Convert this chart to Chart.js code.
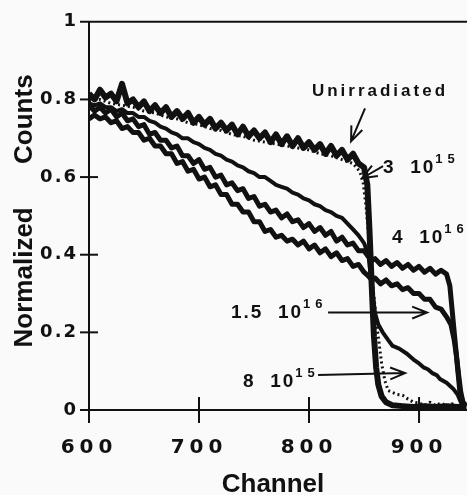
<!DOCTYPE html>
<html>
<head>
<meta charset="utf-8">
<title>Normalized counts vs channel</title>
<script src="https://cdn.jsdelivr.net/npm/chart.js@4.4.1/dist/chart.umd.min.js"></script>
<style>
  html, body { margin: 0; padding: 0; background: #fafafa; }
  #wrap { position: relative; width: 467px; height: 495px; }
</style>
</head>
<body>
<div id="wrap"><canvas id="rbsPlot"></canvas></div>
<script>
// values (channel -> normalized counts)
let unirrChannel = [600,605,610,615,620,625,630,635,640,645,650,655,660,665,670,675,680,685,690,695,
    700,705,710,715,720,725,730,735,740,745,750,755,760,765,770,775,780,785,790,795,
    800,805,810,815,820,825,830,835,840,845,850,853,855,857,859,861,863,866,870,876,885,895,905,915,925,935,943];
let unirrCounts = [.815,.800,.825,.805,.815,.795,.840,.790,.800,.780,.795,.770,.785,.765,.780,.755,.770,.750,.765,.740,
    .755,.735,.750,.725,.740,.720,.735,.710,.730,.705,.720,.700,.715,.690,.710,.685,.705,.680,.700,.675,
    .690,.670,.685,.660,.680,.655,.670,.645,.660,.635,.625,.580,.460,.320,.190,.110,.065,.035,.020,.012,.010,.008,.010,.008,.010,.008,.010];

let f3e15Channel = [600,610,620,630,640,650,660,670,680,690,700,710,720,730,740,750,760,770,780,790,800,810,820,830,840,
    846,849,852,855,858,862,866,869,872,876,880,885,889,895,900,905,910,915,920,925,930,935,940,943];
let f3e15Counts = [.795,.800,.790,.785,.780,.770,.765,.755,.750,.740,.735,.725,.720,.710,.705,.695,.690,.685,.680,.675,.670,.660,.655,.645,.635,
    .615,.590,.520,.420,.320,.210,.120,.075,.050,.045,.040,.038,.030,.020,.018,.012,.020,.012,.018,.010,.016,.010,.015,.010];

let f8e15Channel = [600,605,610,615,620,625,630,635,640,645,650,655,660,665,670,675,680,685,690,695,
    700,705,710,715,720,725,730,735,740,745,750,755,760,765,770,775,780,785,790,795,
    800,805,810,815,820,825,830,835,840,845,850,854,857,860,863,867,872,876,882,889,895,900,904,908,912,916,919,925,931,935,938,941];
let f8e15Counts = [.790,.785,.790,.780,.780,.770,.775,.765,.765,.755,.755,.745,.740,.730,.725,.715,.710,.700,.700,.690,
    .685,.675,.670,.660,.655,.645,.640,.630,.625,.615,.610,.600,.600,.590,.580,.575,.570,.560,.555,.545,
    .540,.530,.525,.515,.510,.500,.495,.480,.465,.450,.430,.400,.320,.250,.220,.200,.180,.165,.158,.145,.130,.120,.110,.105,.095,.090,.080,.070,.055,.040,.020,.010];

let f15e16Channel = [600,605,610,615,620,625,630,635,640,645,650,655,660,665,670,675,680,685,690,695,
    700,705,710,715,720,725,730,735,740,745,750,755,760,765,770,775,780,785,790,795,
    800,805,810,815,820,825,830,835,840,845,850,854,857,860,865,870,875,880,885,890,895,900,905,910,915,920,925,929,932,934,936,938,940,943];
let f15e16Counts = [.750,.760,.750,.755,.740,.745,.725,.730,.715,.715,.695,.700,.680,.680,.660,.660,.635,.640,.615,.620,
    .595,.600,.575,.580,.555,.555,.530,.530,.510,.510,.485,.485,.460,.465,.445,.450,.435,.440,.425,.435,
    .415,.425,.405,.415,.395,.405,.385,.390,.370,.375,.355,.345,.335,.340,.325,.335,.320,.325,.310,.315,.300,.300,.285,.285,.265,.260,.240,.220,.180,.140,.090,.045,.020,.010];

let f4e16Channel = [600,605,610,615,620,625,630,635,640,645,650,655,660,665,670,675,680,685,690,695,
    700,705,710,715,720,725,730,735,740,745,750,755,760,765,770,775,780,785,790,795,
    800,805,810,815,820,825,830,835,840,845,850,854,857,860,865,870,875,880,885,890,895,900,905,910,915,920,925,928,931,934,937,940,943];
let f4e16Counts = [.785,.770,.780,.765,.775,.755,.765,.745,.750,.730,.735,.710,.715,.695,.695,.675,.680,.655,.655,.635,
    .645,.620,.625,.600,.605,.580,.585,.565,.570,.545,.550,.525,.530,.510,.515,.495,.505,.485,.490,.470,
    .480,.460,.470,.450,.460,.435,.445,.425,.430,.410,.410,.395,.385,.390,.375,.385,.370,.380,.365,.375,.360,.370,.355,.365,.350,.360,.350,.320,.230,.140,.050,.015,.010];

let xTicks = [600, 700, 800, 900];
let xTickLabels = ['600', '700', '800', '900'];
let yTicks = [0, 0.2, 0.4, 0.6, 0.8, 1];
let yTickLabels = ['0', '0.2', '0.4', '0.6', '0.8', '1'];
let xTitle = 'Channel';
let yTitle = 'Normalized      Counts';

function toPoints(xs, ys) {
    return xs.map((x, i) => ({x: x, y: ys[i]}));
}

// plain black curve
function curve(label, xs, ys, width, dash) {
    return {
        label: label,
        data: toPoints(xs, ys),
        borderColor: '#111',
        borderWidth: width,
        borderDash: dash || [],
        borderJoinStyle: 'round',
        pointRadius: 0,
        tension: 0,
        fill: false
    };
}

// tick labels are letter-spaced like the original print
function spacedLabels(spacing) {
    return (scale) => {
        if (scale._spaced) return;
        let drawLabels = scale.drawLabels.bind(scale);
        scale.drawLabels = (area) => {
            scale.ctx.letterSpacing = spacing;
            drawLabels(area);
            scale.ctx.letterSpacing = '0px';
        };
        scale._spaced = true;
    };
}

function arrow(ctx, x0, y0, x1, y1) {
    let a = Math.atan2(y1 - y0, x1 - x0);
    let len = 16, spread = 0.38;
    ctx.beginPath();
    ctx.moveTo(x0, y0);
    ctx.lineTo(x1, y1);
    ctx.moveTo(x1 - len * Math.cos(a - spread), y1 - len * Math.sin(a - spread));
    ctx.lineTo(x1, y1);
    ctx.lineTo(x1 - len * Math.cos(a + spread), y1 - len * Math.sin(a + spread));
    ctx.stroke();
}

// "3  10^15" style labels, anchored in data units (left edge / baseline)
let doseLabels = [
    {base: '3  10', sup: '15', ch: 867.3, v: 0.610},
    {base: '4  10', sup: '16', ch: 875.5, v: 0.431},
    {base: '1.5  10', sup: '16', ch: 729, v: 0.238},
    {base: '8  10', sup: '15', ch: 740, v: 0.059}
];
let arrows = [
    [850.9, 0.777, 838.2, 0.692],
    [867.3, 0.628, 848.2, 0.597],
    [817.3, 0.251, 907.3, 0.251],
    [808.2, 0.090, 887.3, 0.095]
];

const decorations = {
    id: 'decorations',
    afterDraw(chart) {
        let ctx = chart.ctx;
        let xs = chart.scales.x, ys = chart.scales.y;
        let area = chart.chartArea;
        ctx.save();
        ctx.letterSpacing = '0px';
        ctx.strokeStyle = '#111';
        ctx.fillStyle = '#111';
        ctx.lineWidth = 2;

        // tick marks crossing the axes
        yTicks.forEach(v => {
            let py = ys.getPixelForValue(v);
            ctx.beginPath();
            ctx.moveTo(area.left - 9, py);
            ctx.lineTo(v === 1 ? area.right : area.left + 9, py);
            ctx.stroke();
        });
        xTicks.forEach(v => {
            let px = xs.getPixelForValue(v);
            ctx.beginPath();
            ctx.moveTo(px, area.bottom - 13);
            ctx.lineTo(px, area.bottom + 13);
            ctx.stroke();
        });

        // axis titles
        ctx.font = 'bold 26px "Liberation Sans", Arial, sans-serif';
        ctx.textAlign = 'center';
        ctx.textBaseline = 'alphabetic';
        ctx.fillText(xTitle, (area.left + area.right) / 2 - 5, 492);
        ctx.save();
        ctx.translate(32, (area.top + area.bottom) / 2 - 5);
        ctx.rotate(-Math.PI / 2);
        ctx.fillText(yTitle, 0, 0);
        ctx.restore();

        // annotations
        ctx.font = 'bold 17px "Liberation Sans", Arial, sans-serif';
        ctx.letterSpacing = '3px';
        ctx.fillText('Unirradiated', xs.getPixelForValue(864.5), ys.getPixelForValue(0.808));

        ctx.textAlign = 'left';
        doseLabels.forEach(d => {
            let x0 = xs.getPixelForValue(d.ch), y0 = ys.getPixelForValue(d.v);
            ctx.font = 'bold 19px "Liberation Sans", Arial, sans-serif';
            ctx.letterSpacing = '2px';
            ctx.fillText(d.base, x0, y0);
            let w = ctx.measureText(d.base).width;
            ctx.font = 'bold 13px "Liberation Sans", Arial, sans-serif';
            ctx.letterSpacing = '5px';
            ctx.fillText(d.sup, x0 + w, y0 - 10);
        });

        ctx.letterSpacing = '0px';
        arrows.forEach(a => {
            arrow(ctx, xs.getPixelForValue(a[0]), ys.getPixelForValue(a[1]),
                xs.getPixelForValue(a[2]), ys.getPixelForValue(a[3]));
        });
        ctx.restore();
    }
};

let plot = document.getElementById('rbsPlot').getContext('2d');

new Chart(plot, {
    type: 'line',
    data: {
        datasets: [
            curve('Unirradiated', unirrChannel, unirrCounts, 6),
            curve('3 10^15', f3e15Channel, f3e15Counts, 3, [2, 3]),
            curve('1.5 10^16', f15e16Channel, f15e16Counts, 5),
            curve('4 10^16', f4e16Channel, f4e16Counts, 5),
            curve('8 10^15', f8e15Channel, f8e15Counts, 4),
            // white core gives the outlined look of the 8 10^15 trace
            Object.assign(curve('8 10^15 core', f8e15Channel, f8e15Counts, 1.4), {borderColor: '#fafafa'})
        ]
    },
    options: {
        responsive: true,
        maintainAspectRatio: false,
        animation: false,
        layout: { padding: {top: 20, right: 0, bottom: 0, left: 0} },
        scales: {
            x: {
                type: 'linear',
                min: 600,
                max: 943.6,
                afterFit: (scale) => { scale.height = 85; },
                afterUpdate: spacedLabels('5px'),
                afterBuildTicks: (scale) => { scale.ticks = xTicks.map(v => ({value: v})); },
                grid: { display: false, drawTicks: false },
                border: { display: true, color: '#111', width: 2 },
                title: { display: false },
                ticks: {
                    padding: 26,
                    color: '#111',
                    font: { family: '"DejaVu Sans"', size: 20, weight: 'bold' },
                    maxRotation: 0,
                    autoSkip: false,
                    callback: (value) => xTickLabels[xTicks.indexOf(value)]
                }
            },
            y: {
                min: 0,
                max: 1,
                afterFit: (scale) => { scale.width = 89; },
                afterUpdate: spacedLabels('2px'),
                afterBuildTicks: (scale) => { scale.ticks = yTicks.map(v => ({value: v})); },
                grid: { display: false, drawTicks: false },
                border: { display: true, color: '#111', width: 2 },
                title: { display: false },
                ticks: {
                    padding: 11,
                    color: '#111',
                    font: { family: '"DejaVu Sans"', size: 18, weight: 'bold' },
                    autoSkip: false,
                    callback: (value) => yTickLabels[yTicks.indexOf(value)]
                }
            }
        },
        plugins: {
            legend: { display: false },
            title: { display: false },
            tooltip: { enabled: false }
        }
    },
    plugins: [decorations]
});
</script>
</body>
</html>
